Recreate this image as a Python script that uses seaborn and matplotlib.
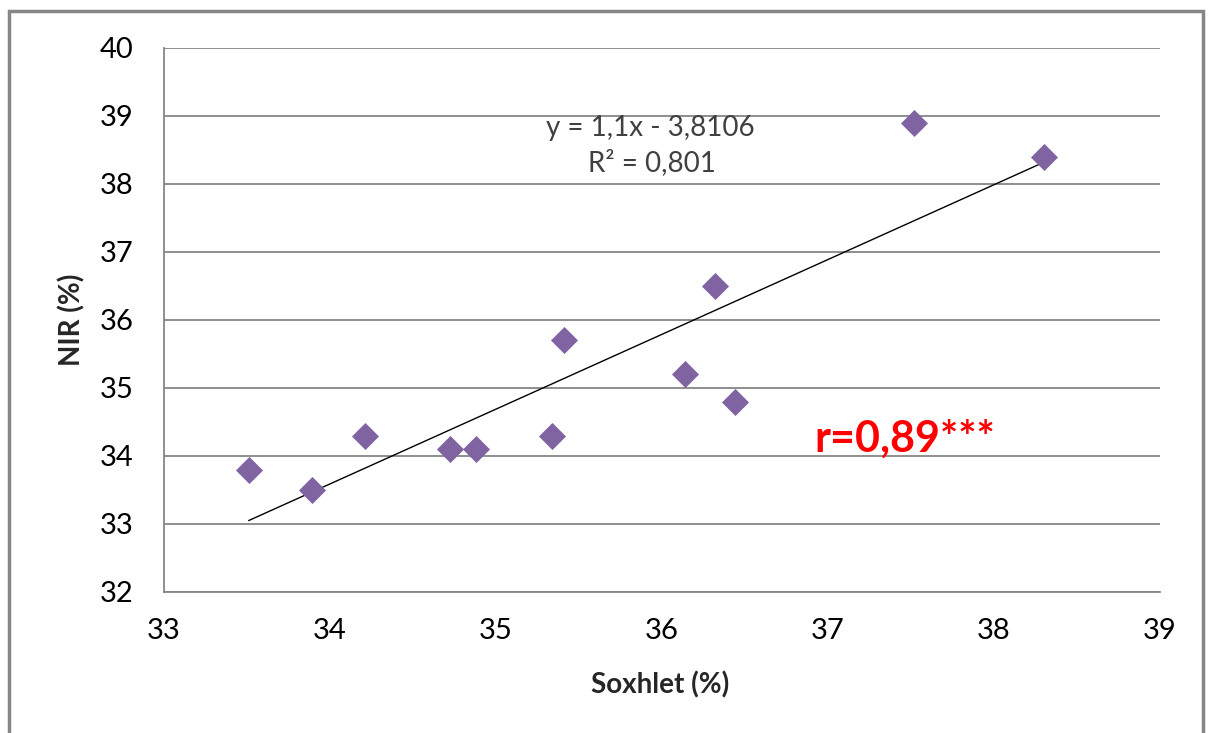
import matplotlib
matplotlib.use("Agg")
import matplotlib.pyplot as plt
import seaborn as sns
import pandas as pd
import numpy as np
from matplotlib.patches import Rectangle

soxhlet = [33.51, 33.89, 34.21, 34.72, 34.88, 35.34, 35.41, 36.14, 36.32, 36.44, 37.52, 38.30]
nir = [33.8, 33.5, 34.3, 34.1, 34.1, 34.3, 35.7, 35.2, 36.5, 34.8, 38.9, 38.4]
slope = 1.1
intercept = -3.8106
eq_text = "y = 1,1x - 3,8106"
r2_text = "R² = 0,801"
r_text = "r=0,89***"
x_ticks = [33, 34, 35, 36, 37, 38, 39]
y_ticks = [32, 33, 34, 35, 36, 37, 38, 39, 40]

sns.set_theme(style="white")
plt.rcParams['font.family'] = ['Lato', 'DejaVu Sans']

fig = plt.figure(figsize=(12.08, 7.33), dpi=100)
ax = fig.add_axes([164/1208, 1-592/733, (1160-164)/1208, (592-48)/733])

df = pd.DataFrame({"Soxhlet": soxhlet, "NIR": nir})
line_x = np.array([min(soxhlet), max(soxhlet)])
line_df = pd.DataFrame({"x": line_x, "y": slope * line_x + intercept})

for yv in y_ticks:
    ax.axhline(yv, color="#868686", lw=1.3, zorder=0)

sns.lineplot(data=line_df, x="x", y="y", ax=ax, color="black", lw=1.0, zorder=2)
sns.scatterplot(data=df, x="Soxhlet", y="NIR", ax=ax, marker="D", s=190,
                color="#8064A2", edgecolor="#8064A2", linewidth=0, zorder=3)

ax.set_xlim(33, 39)
ax.set_ylim(32, 40)
ax.set_xticks(x_ticks)
ax.set_yticks(y_ticks)
ax.set_xticklabels([str(t) for t in x_ticks])
ax.set_yticklabels([str(t) for t in y_ticks])
ax.tick_params(axis="both", length=0, labelsize=21, colors="black")
ax.tick_params(axis="y", pad=22)
ax.tick_params(axis="x", pad=19)
for s in ["top", "right"]:
    ax.spines[s].set_visible(False)
for s in ["left", "bottom"]:
    ax.spines[s].set_color("#868686")
    ax.spines[s].set_linewidth(1.3)
ax.set_xlabel("")
ax.set_ylabel("")

fig.text(660/1208, 1-685/733, "Soxhlet (%)", ha="center", va="center", fontsize=20, fontweight="bold")
fig.text(72/1208, 1-320/733, "NIR (%)", ha="center", va="center", fontsize=20, fontweight="bold", rotation=90)

ax.text(35.93, 38.83, eq_text, ha="center", va="center", fontsize=20, color="#404040")
ax.text(35.94, 38.32, r2_text, ha="center", va="center", fontsize=20, color="#404040")
ax.text(37.46, 34.26, r_text, ha="center", va="center", fontsize=31, fontweight="bold", color="#FF0000")

fig.patches.append(Rectangle((9/1208, -0.05), (1203-9)/1208, 1-11/733+0.05,
                             transform=fig.transFigure, fill=False, edgecolor="#868686", lw=2.5))

fig.savefig("out.png", dpi=100)
